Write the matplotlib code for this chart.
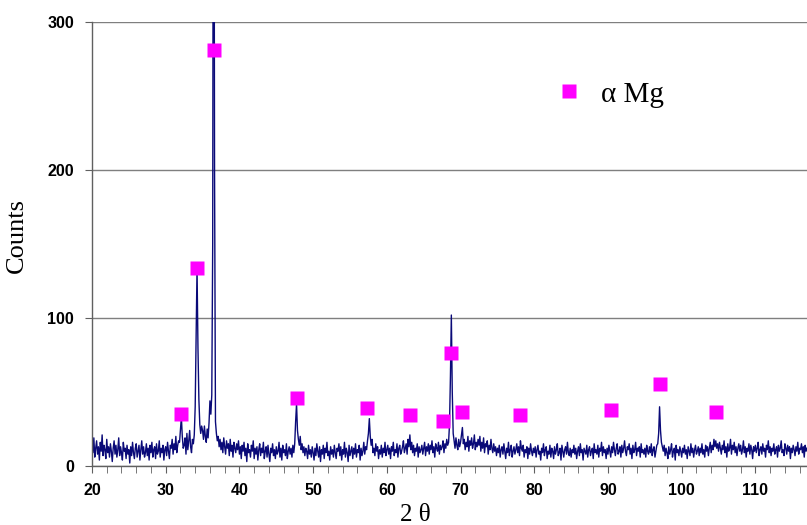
import numpy as np
import matplotlib
matplotlib.use("Agg")
import matplotlib.pyplot as plt

# XRD trace, counts read every 0.125 deg from 20 deg (one row = 2.5 deg)
counts = [
    15, 9, 19, 6, 12, 17, 8, 13, 4, 16, 10, 21, 7, 14, 11, 5, 18, 9, 13, 6,            # 20.0
    15, 10, 3, 12, 17, 8, 14, 6, 11, 19, 7, 13, 9, 4, 16, 10, 12, 5, 14, 8,            # 22.5
    11, 2, 13, 7, 16, 9, 5, 12, 15, 6, 10, 14, 4, 11, 17, 8, 13, 6, 9, 15,             # 25.0
    7, 12, 4, 14, 9, 16, 6, 11, 13, 5, 15, 8, 10, 17, 6, 12, 9, 14, 4, 11,             # 27.5
    13, 7, 16, 10, 5, 14, 12, 18, 8, 15, 11, 20, 9, 14, 17, 16, 25, 33, 20, 12,        # 30.0
    14, 19, 8, 22, 11, 17, 24, 13, 9, 18, 15, 21, 40, 90, 134, 80, 45, 28, 22, 27,     # 32.5
    24, 18, 27, 20, 16, 25, 19, 29, 44, 35, 48, 150, 640, 200, 30, 22, 17, 20, 13, 18, # 35.0
    11, 16, 9, 19, 13, 8, 17, 12, 15, 7, 18, 10, 14, 6, 16, 12, 9, 15, 11, 17,         # 37.5
    8, 13, 5, 14, 10, 16, 7, 12, 3, 15, 9, 11, 6, 14, 10, 17, 5, 12, 8, 13,            # 40.0
    4, 11, 15, 7, 12, 9, 16, 5, 10, 13, 6, 14, 8, 3, 12, 9, 15, 7, 11, 5,              # 42.5
    13, 8, 10, 16, 6, 12, 4, 14, 9, 11, 7, 15, 5, 10, 13, 8, 12, 6, 14, 9,             # 45.0
    15, 30, 42, 24, 18, 14, 20, 11, 15, 9, 13, 7, 12, 10, 5, 14, 8, 11, 6, 13,         # 47.5
    9, 4, 12, 7, 15, 10, 6, 13, 3, 11, 8, 14, 5, 12, 9, 16, 7, 10, 4, 13,              # 50.0
    8, 11, 6, 14, 9, 5, 12, 10, 15, 7, 13, 4, 11, 8, 16, 6, 12, 9, 3, 14,              # 52.5
    7, 10, 13, 5, 12, 8, 15, 6, 11, 9, 14, 4, 12, 7, 10, 16, 8, 13, 11, 17,            # 55.0
    22, 32, 20, 14, 18, 9, 12, 7, 15, 10, 13, 5, 11, 8, 14, 6, 12, 9, 16, 7,           # 57.5
    11, 14, 8, 12, 5, 13, 10, 16, 7, 11, 9, 15, 6, 12, 14, 8, 10, 13, 17, 9,           # 60.0
    12, 15, 8, 18, 13, 21, 11, 16, 9, 14, 7, 12, 10, 15, 6, 13, 9, 11, 14, 8,          # 62.5
    12, 16, 7, 13, 10, 15, 8, 14, 11, 17, 9, 13, 6, 15, 12, 10, 16, 8, 14, 11,         # 65.0
    13, 17, 9, 15, 12, 18, 14, 16, 28, 60, 102, 50, 22, 17, 12, 19, 14, 11, 18, 13,    # 67.5
    16, 21, 26, 15, 18, 11, 16, 13, 20, 10, 17, 14, 19, 12, 15, 21, 11, 16, 13, 18,    # 70.0
    14, 20, 10, 16, 12, 19, 9, 15, 13, 17, 8, 14, 11, 18, 12, 9, 15, 10, 13, 7,        # 72.5
    12, 9, 14, 6, 11, 13, 8, 15, 10, 5, 12, 9, 16, 7, 11, 14, 6, 10, 13, 8,            # 75.0
    11, 15, 9, 13, 7, 17, 12, 10, 14, 6, 11, 9, 13, 5, 12, 8, 15, 10, 7, 12,           # 77.5
    9, 13, 6, 11, 14, 8, 10, 4, 12, 9, 15, 7, 11, 13, 5, 10, 8, 14, 6, 12,             # 80.0
    10, 5, 13, 8, 11, 15, 7, 9, 12, 4, 14, 10, 6, 11, 13, 8, 16, 9, 7, 12,             # 82.5
    6, 11, 9, 14, 8, 12, 5, 10, 13, 7, 15, 9, 11, 4, 12, 10, 8, 14, 6, 11,             # 85.0
    13, 7, 10, 12, 5, 15, 9, 11, 8, 14, 6, 12, 10, 16, 7, 13, 9, 11, 5, 12,            # 87.5
    8, 14, 10, 6, 13, 9, 16, 11, 7, 12, 15, 8, 10, 13, 6, 14, 9, 12, 17, 10,           # 90.0
    7, 13, 11, 15, 8, 12, 5, 14, 9, 11, 16, 7, 12, 10, 13, 6, 15, 9, 11, 8,            # 92.5
    12, 6, 14, 10, 8, 13, 9, 15, 7, 11, 13, 6, 10, 14, 15, 22, 40, 24, 16, 13,         # 95.0
    10, 14, 7, 12, 9, 5, 13, 8, 11, 15, 6, 10, 12, 4, 14, 9, 11, 7, 13, 10,            # 97.5
    6, 12, 9, 14, 8, 11, 5, 13, 10, 7, 15, 9, 12, 6, 11, 14, 8, 10, 13, 7,             # 100.0
    12, 9, 15, 8, 11, 6, 14, 10, 13, 7, 12, 16, 9, 14, 11, 18, 13, 17, 12, 15,         # 102.5
    10, 16, 12, 8, 14, 11, 17, 9, 13, 6, 15, 10, 12, 18, 8, 14, 11, 16, 9, 13,         # 105.0
    7, 12, 15, 10, 14, 8, 11, 17, 9, 13, 6, 12, 10, 15, 8, 14, 11, 5, 13, 10,          # 107.5
    14, 9, 12, 16, 7, 11, 13, 8, 15, 10, 12, 6, 14, 11, 17, 9, 13, 7, 12, 10,          # 110.0
    15, 8, 11, 13, 6, 14, 10, 12, 17, 9, 11, 7, 15, 12, 8, 14, 10, 13, 5, 12,          # 112.5
    9, 14, 11, 7, 13, 10, 16, 8, 12, 11, 15, 9, 13, 6, 14, 10, 12,                     # 115.0
]
two_theta = 20 + 0.125 * np.arange(len(counts))

# alpha-Mg peak markers
mg_theta = [32.1, 34.2, 36.55, 47.8, 57.3, 63.1, 67.6, 68.7, 70.2, 78.1, 90.4, 97.1, 104.7]
mg_counts = [35.4, 133.6, 281, 45.7, 38.9, 34.3, 30.4, 76.6, 36.5, 34.3, 38.1, 55.7, 36.5]

fig = plt.figure(figsize=(8.07, 5.25), dpi=100)
ax = fig.add_axes([0.114, 0.1124, 0.886, 0.8457])

ax.plot(two_theta, counts, color="#0a0a78", lw=1.0, zorder=2)
ax.plot(mg_theta, mg_counts, "s", color="#ff00ff", ms=10, mec="none",
        label="α Mg", zorder=3)

ax.set_xlim(20, 117)
ax.set_ylim(0, 300)
ax.set_xticks(np.arange(20, 111, 10))
ax.set_xticks(np.arange(20, 117, 2), minor=True)
ax.set_yticks([0, 100, 200, 300])
ax.yaxis.grid(True, color="#7f7f7f", lw=1)
ax.set_axisbelow(True)

for s in ["top", "right"]:
    ax.spines[s].set_visible(False)
for s in ["left", "bottom"]:
    ax.spines[s].set_color("#606060")
    ax.spines[s].set_linewidth(1)

ax.tick_params(axis="both", which="both", direction="out", length=5, color="#606060")
ax.tick_params(axis="x", pad=7)
ax.tick_params(axis="y", pad=8)
for lab in ax.get_xticklabels() + ax.get_yticklabels():
    lab.set_fontfamily("Liberation Sans")
    lab.set_fontweight("bold")
    lab.set_fontsize(11.5)

ax.set_ylabel("Counts", fontfamily="Liberation Serif", fontsize=19)
ax.yaxis.set_label_coords(-0.09, 0.52)
ax.set_xlabel("2 θ", fontfamily="Liberation Serif", fontsize=18)
ax.xaxis.set_label_coords(0.452, -0.085)

leg = ax.legend(loc="center left", bbox_to_anchor=(0.647, 0.837), frameon=False,
                borderpad=0, borderaxespad=0, handlelength=1, handletextpad=0.6,
                prop={"family": "Liberation Serif", "size": 21})

fig.savefig("out.png", dpi=100)
